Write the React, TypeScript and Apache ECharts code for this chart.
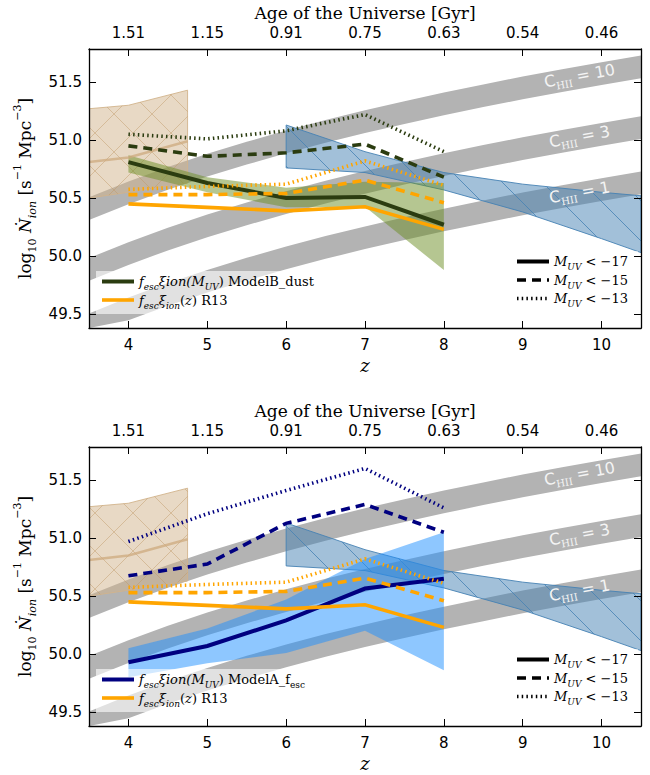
import React, { useEffect, useRef } from 'react';
import * as echarts from 'echarts';

// ---------------- data ----------------
const zTicks = [4, 5, 6, 7, 8, 9, 10];
const ageLabels = ['1.51', '1.15', '0.91', '0.75', '0.63', '0.54', '0.46'];
const yTicks = [49.5, 50.0, 50.5, 51.0, 51.5];

// clumping-factor bands (centre of band, log10 Ndot_ion)
const bandZ = [3.5, 4, 4.5, 5, 5.5, 6, 6.5, 7, 7.5, 8, 8.5, 9, 9.5, 10, 10.5];
const cHII10 = [50.408, 50.545, 50.670, 50.783, 50.887, 50.984, 51.074, 51.158, 51.237, 51.311, 51.382, 51.449, 51.512, 51.573, 51.631];
const cHII3 = [49.885, 50.022, 50.147, 50.260, 50.364, 50.461, 50.551, 50.635, 50.714, 50.788, 50.859, 50.926, 50.989, 51.050, 51.108];
const cHII1 = [49.408, 49.545, 49.670, 49.783, 49.887, 49.984, 50.074, 50.158, 50.237, 50.311, 50.382, 50.449, 50.512, 50.573, 50.631];
const bandHalfWidth = 0.098;
const bandLabelZ = 9.72;
const bandLabelC = ['10', '3', '1'];
const bandLabelY = [51.555, 51.03, 50.55];

// tan observational region
const tanZ = [3.5, 4, 4.75];
const tanHi = [51.27, 51.30, 51.43];
const tanLo = [50.50, 50.55, 50.63];
const tanMid = [50.81, 50.85, 50.99];

// steel-blue hatched region
const obsZ = [6, 7, 8, 9, 10, 10.5];
const obsHi = [51.13, 50.90, 50.72, 50.62, 50.55, 50.52];
const obsLo = [50.76, 50.72, 50.57, 50.38, 50.15, 50.03];

// model redshifts
const modelZ = [4, 5, 6, 7, 8];

// ModelB_dust (top panel)
const modelB17 = [50.81, 50.63, 50.50, 50.51, 50.27];
const modelB15 = [50.95, 50.86, 50.89, 50.965, 50.68];
const modelB13 = [51.05, 51.01, 51.08, 51.22, 50.90];
const modelBHi = [50.87, 50.68, 50.59, 50.64, 50.63];
const modelBLo = [50.72, 50.55, 50.42, 50.425, 49.88];

// ModelA_fesc (bottom panel)
const modelA17 = [49.93, 50.07, 50.29, 50.565, 50.65];
const modelA15 = [50.675, 50.776, 51.127, 51.29, 51.05];
const modelA13 = [50.97, 51.21, 51.41, 51.60, 51.26];
const modelAHi = [50.05, 50.22, 50.47, 50.82, 51.05];
const modelALo = [49.80, 49.92, 50.01, 50.20, 49.86];

// R13
const r13_17 = [50.45, 50.42, 50.39, 50.425, 50.23];
const r13_15 = [50.53, 50.53, 50.54, 50.655, 50.46];
const r13_13 = [50.575, 50.60, 50.62, 50.82, 50.61];

// ---------------- styles ----------------
const SERIF = '"DejaVu Serif", serif';
const SANS = '"DejaVu Sans", sans-serif';
const DARKGREEN = '#2b3c10';
const NAVY = '#000080';
const ORANGE = '#ffa500';
const GRAY = '#b3b3b3';

const Y_MIN = 49.38;
const Y_MAX = 51.785;

function hatchPattern(kind: 'x' | 'back', color: string, P: number) {
  const c = document.createElement('canvas');
  c.width = P;
  c.height = P;
  const ctx = c.getContext('2d')!;
  ctx.strokeStyle = color;
  ctx.lineWidth = 1;
  ctx.beginPath();
  for (const k of [-1, 0, 1]) {
    ctx.moveTo(k * P, 0);
    ctx.lineTo(k * P + P, P);
    if (kind === 'x') {
      ctx.moveTo(k * P + P, 0);
      ctx.lineTo(k * P, P);
    }
  }
  ctx.stroke();
  return { image: c.toDataURL(), repeat: 'repeat', imageWidth: P, imageHeight: P };
}

function areaSeries(g: number, zs: number[], lo: number[], hi: number[], fill: string, stroke: string | null, pattern?: any) {
  return {
    type: 'custom',
    xAxisIndex: g,
    yAxisIndex: g,
    clip: true,
    silent: true,
    data: zs.map((z, i) => [z, lo[i], hi[i]]),
    encode: { x: 0, y: [1, 2] },
    renderItem: (params: any, api: any) => {
      if (params.dataIndex !== 0) return null;
      const cs = params.coordSys;
      const clamp = (p: number[]) => [
        Math.min(Math.max(p[0], cs.x), cs.x + cs.width),
        Math.min(Math.max(p[1], cs.y), cs.y + cs.height),
      ];
      const top = zs.map((z, i) => clamp(api.coord([z, hi[i]])));
      const bot = zs.map((z, i) => clamp(api.coord([z, lo[i]]))).reverse();
      const points = top.concat(bot);
      const children: any[] = [
        { type: 'polygon', shape: { points }, style: { fill, stroke: stroke || 'none', lineWidth: 1 } },
      ];
      if (pattern) children.push({ type: 'polygon', shape: { points }, style: { fill: pattern, stroke: 'none' } });
      return { type: 'group', children };
    },
  };
}

function bandSeries(g: number, centre: number[]) {
  return areaSeries(
    g,
    bandZ,
    centre.map((v) => v - bandHalfWidth),
    centre.map((v) => v + bandHalfWidth),
    GRAY,
    null
  );
}

function bandLabelSeries(g: number) {
  return {
    type: 'custom',
    xAxisIndex: g,
    yAxisIndex: g,
    silent: true,
    data: bandLabelY.map((v) => [bandLabelZ, v]),
    renderItem: (params: any, api: any) => {
      const i = params.dataIndex;
      const p = api.coord([bandLabelZ, bandLabelY[i]]);
      return {
        type: 'text',
        x: p[0],
        y: p[1],
        rotation: (10.5 * Math.PI) / 180,
        style: {
          text: `{c|C}{s|HII}{c| = ${bandLabelC[i]}}`,
          align: 'center',
          verticalAlign: 'middle',
          rich: {
            c: { fontFamily: SANS, fontSize: 16, fill: '#f4f4f4', lineHeight: 22 },
            s: { fontFamily: SERIF, fontSize: 10, fill: '#f4f4f4', lineHeight: 12, verticalAlign: 'bottom' },
          },
        },
      };
    },
  };
}

function lineSeries(g: number, name: string, zs: number[], vals: number[], color: string, kind: 'solid' | 'dashed' | 'dotted', width?: number) {
  const type = kind === 'solid' ? 'solid' : kind === 'dashed' ? [9, 6] : [1.5, 3.2];
  const w = width ?? (kind === 'solid' ? 4 : kind === 'dashed' ? 3.6 : 3.6);
  return {
    type: 'line',
    name,
    xAxisIndex: g,
    yAxisIndex: g,
    data: zs.map((z, i) => [z, vals[i]]),
    symbol: 'none',
    silent: true,
    lineStyle: { color, width: w, type, cap: 'butt', join: 'miter' },
    itemStyle: { color },
  };
}

const axisLineStyle = { color: '#000', width: 1.3 };
const tickStyle = { color: '#000', width: 1 };

function xAxes(g: number) {
  return [
    {
      gridIndex: g,
      type: 'value',
      position: 'bottom',
      min: 3.5,
      max: 10.5,
      z: 10,
      axisLine: { show: true, onZero: false, lineStyle: axisLineStyle },
      axisTick: { show: true, inside: true, length: 7, customValues: zTicks, lineStyle: tickStyle },
      axisLabel: { show: true, customValues: zTicks, fontSize: 15, fontFamily: SANS, color: '#000', margin: 9 },
      splitLine: { show: false },
      name: 'z',
      nameLocation: 'middle',
      nameGap: 28,
      nameTextStyle: { fontFamily: SERIF, fontStyle: 'italic', fontSize: 18, color: '#000' },
    },
    {
      gridIndex: g,
      type: 'value',
      position: 'top',
      min: 3.5,
      max: 10.5,
      z: 10,
      axisLine: { show: true, onZero: false, lineStyle: axisLineStyle },
      axisTick: { show: true, inside: true, length: 7, customValues: zTicks, lineStyle: tickStyle },
      axisLabel: {
        show: true,
        customValues: zTicks,
        fontSize: 15,
        fontFamily: SANS,
        color: '#000',
        margin: 9,
        formatter: (v: number) => ageLabels[zTicks.indexOf(Math.round(v))] ?? '',
      },
      splitLine: { show: false },
      name: 'Age of the Universe [Gyr]',
      nameLocation: 'middle',
      nameGap: 28,
      nameTextStyle: { fontFamily: SERIF, fontSize: 17, color: '#000' },
    },
  ];
}

function yAxes(g: number) {
  return [
    {
      gridIndex: g,
      type: 'value',
      position: 'left',
      min: Y_MIN,
      max: Y_MAX,
      z: 10,
      axisLine: { show: true, onZero: false, lineStyle: axisLineStyle },
      axisTick: { show: true, inside: true, length: 7, customValues: yTicks, lineStyle: tickStyle },
      axisLabel: {
        show: true,
        customValues: yTicks,
        fontSize: 15,
        fontFamily: SANS,
        color: '#000',
        margin: 7,
        formatter: (v: number) => v.toFixed(1),
      },
      splitLine: { show: false },
      name: '{r|log}{rs|10}{r| }{i|Ṅ}{is|ion}{r| [s}{sup|−1}{r| Mpc}{sup|−3}{r|]}',
      nameLocation: 'middle',
      nameRotate: 90,
      nameGap: 40,
      nameTextStyle: {
        color: '#000',
        rich: {
          r: { fontFamily: SERIF, fontSize: 17, lineHeight: 26 },
          i: { fontFamily: SERIF, fontStyle: 'italic', fontSize: 17, lineHeight: 26 },
          rs: { fontFamily: SERIF, fontSize: 11, lineHeight: 12, verticalAlign: 'bottom' },
          is: { fontFamily: SERIF, fontStyle: 'italic', fontSize: 11, lineHeight: 12, verticalAlign: 'bottom' },
          sup: { fontFamily: SERIF, fontSize: 11, lineHeight: 12, verticalAlign: 'top' },
        },
      },
    },
    {
      gridIndex: g,
      type: 'value',
      position: 'right',
      min: Y_MIN,
      max: Y_MAX,
      z: 10,
      axisLine: { show: true, onZero: false, lineStyle: axisLineStyle },
      axisTick: { show: true, inside: true, length: 7, customValues: yTicks, lineStyle: tickStyle },
      axisLabel: { show: false },
      splitLine: { show: false },
    },
  ];
}

const legendRich = {
  i: { fontFamily: SERIF, fontStyle: 'italic', fontSize: 13, lineHeight: 20, color: '#000' },
  is: { fontFamily: SERIF, fontStyle: 'italic', fontSize: 9, lineHeight: 11, verticalAlign: 'bottom', color: '#000' },
  r: { fontFamily: SERIF, fontSize: 13, lineHeight: 20, color: '#000' },
  rs: { fontFamily: SERIF, fontSize: 9, lineHeight: 11, verticalAlign: 'bottom', color: '#000' },
};

const legendText: Record<string, string> = {
  ModelB: '{i|f}{is|esc}{i|ξion(M}{is|UV}{r|) ModelB_dust}',
  ModelA: '{i|f}{is|esc}{i|ξion(M}{is|UV}{r|) ModelA_f}{rs|esc}',
  R13: '{i|f}{is|esc}{i|ξ}{is|ion}{r|(}{i|z}{r|) R13}',
  m17: '{i|M}{is|UV}{r| < −17}',
  m15: '{i|M}{is|UV}{r| < −15}',
  m13: '{i|M}{is|UV}{r| < −13}',
};

function legendAt(left: number, top: number, data: string[]) {
  return {
    orient: 'vertical',
    left,
    top,
    itemWidth: 32,
    itemHeight: 12,
    itemGap: 2,
    padding: [4, 10, 4, 4],
    backgroundColor: 'rgba(255,255,255,0.6)',
    borderWidth: 0,
    selectedMode: false,
    data,
    formatter: (name: string) => legendText[name] ?? name,
    textStyle: { rich: legendRich },
    lineStyle: { width: 'inherit' },
    itemStyle: { opacity: 0 },
  };
}

function buildOption(): any {
  const tanPattern = hatchPattern('x', 'rgba(190,150,100,0.45)', 38);
  const obsPattern = hatchPattern('back', 'rgba(70,130,180,0.8)', 40);
  const series: any[] = [];
  const OFFSET = 398;
  for (const g of [0, 1]) {
    series.push(bandSeries(g, cHII10), bandSeries(g, cHII3), bandSeries(g, cHII1));
    series.push(areaSeries(g, tanZ, tanLo, tanHi, 'rgba(210,180,140,0.5)', 'rgba(210,180,140,0.9)', tanPattern));
    series.push(lineSeries(g, 'tanmid' + g, tanZ, tanMid, 'rgba(205,170,125,0.75)', 'solid', 2.5));
    series.push(areaSeries(g, obsZ, obsLo, obsHi, 'rgba(70,130,180,0.5)', 'rgba(70,130,180,0.9)', obsPattern));
    if (g === 0) {
      series.push(areaSeries(g, modelZ, modelBLo, modelBHi, 'rgba(107,142,35,0.5)', null));
    } else {
      series.push(areaSeries(g, modelZ, modelALo, modelAHi, 'rgba(30,144,255,0.5)', null));
    }
    series.push(bandLabelSeries(g));
    if (g === 0) {
      series.push(lineSeries(g, 'ModelB', modelZ, modelB17, DARKGREEN, 'solid'));
      series.push(lineSeries(g, 'ModelB15', modelZ, modelB15, DARKGREEN, 'dashed'));
      series.push(lineSeries(g, 'ModelB13', modelZ, modelB13, DARKGREEN, 'dotted'));
    } else {
      series.push(lineSeries(g, 'ModelA', modelZ, modelA17, NAVY, 'solid'));
      series.push(lineSeries(g, 'ModelA15', modelZ, modelA15, NAVY, 'dashed'));
      series.push(lineSeries(g, 'ModelA13', modelZ, modelA13, NAVY, 'dotted'));
    }
    series.push(lineSeries(g, 'R13', modelZ, r13_17, ORANGE, 'solid', 3.6));
    series.push(lineSeries(g, 'R13_15' + g, modelZ, r13_15, ORANGE, 'dashed'));
    series.push(lineSeries(g, 'R13_13' + g, modelZ, r13_13, ORANGE, 'dotted'));
  }
  // legend-only series
  series.push(lineSeries(0, 'm17', [], [], '#000', 'solid'));
  series.push(lineSeries(0, 'm15', [], [], '#000', 'dashed'));
  series.push(lineSeries(0, 'm13', [], [], '#000', 'dotted'));

  return {
    animation: false,
    backgroundColor: '#fff',
    grid: [
      { left: 89, top: 49, width: 552, height: 279 },
      { left: 89, top: 49 + OFFSET, width: 552, height: 279 },
    ],
    xAxis: [...xAxes(0), ...xAxes(1)],
    yAxis: [...yAxes(0), ...yAxes(1)],
    legend: [
      legendAt(96, 271, ['ModelB', 'R13']),
      legendAt(511, 251, ['m17', 'm15', 'm13']),
      legendAt(96, 271 + OFFSET, ['ModelA', 'R13']),
      legendAt(511, 251 + OFFSET, ['m17', 'm15', 'm13']),
    ],
    series: series.map((s) => ({ ...s, xAxisIndex: s.xAxisIndex * 2, yAxisIndex: s.yAxisIndex * 2 })),
  };
}

export default function App() {
  const ref = useRef<HTMLDivElement>(null);
  useEffect(() => {
    const chart = echarts.init(ref.current!, undefined, { renderer: 'svg' });
    chart.setOption(buildOption());
    return () => chart.dispose();
  }, []);
  return (
    <div
      ref={ref}
      style={{ position: 'fixed', left: 0, top: 0, width: 650, height: 775, background: '#fff' }}
    />
  );
}
